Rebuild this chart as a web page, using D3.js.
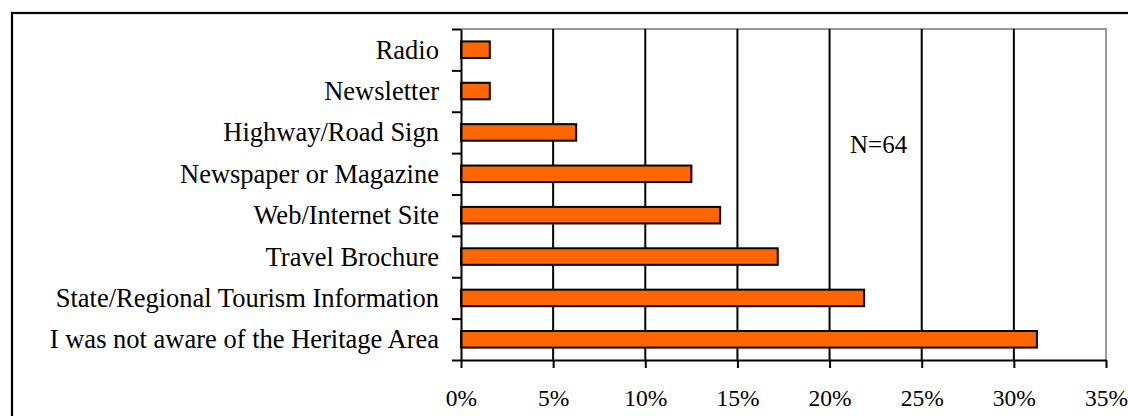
<!DOCTYPE html>
<html>
<head>
<meta charset="utf-8">
<script src="https://cdn.jsdelivr.net/npm/d3@7"></script>
<style>
  html, body { margin: 0; padding: 0; background: #fff; }
  svg { display: block; }
  text { font-family: "Liberation Serif", "Times New Roman", serif; fill: #000; }
</style>
</head>
<body>
<svg id="chart" width="1128" height="416"></svg>
<script>
// How visitors heard about the Heritage Area (share of respondents)
const categories = [
  "Radio",
  "Newsletter",
  "Highway/Road Sign",
  "Newspaper or Magazine",
  "Web/Internet Site",
  "Travel Brochure",
  "State/Regional Tourism Information",
  "I was not aware of the Heritage Area"
];
const shares = [1.5625, 1.5625, 6.25, 12.5, 14.0625, 17.1875, 21.875, 31.25];
const xTicks = [0, 5, 10, 15, 20, 25, 30, 35];
const sampleNote = "N=64";

const svg = d3.select("#chart");
const plot = { left: 461, right: 1106, top: 29, bottom: 360 };

// outer frame
svg.append("rect")
  .attr("x", 12).attr("y", 13)
  .attr("width", 1140).attr("height", 440)
  .attr("fill", "none").attr("stroke", "#000").attr("stroke-width", 2.2);

const x = d3.scaleLinear().domain([0, 35]).range([plot.left, plot.right]);
const y = d3.scaleBand().domain(categories).range([plot.top, plot.bottom]).paddingInner(0.6).paddingOuter(0.3);
const yEdges = d3.scaleLinear().domain([0, categories.length]).range([plot.top, plot.bottom]);

// plot frame (top and right, grey)
svg.append("path")
  .attr("d", `M${plot.left},${plot.top}H${plot.right}V${plot.bottom}`)
  .attr("fill", "none").attr("stroke", "#999").attr("stroke-width", 2);

// vertical gridlines
svg.append("g").selectAll("line")
  .data(xTicks.filter(t => t > 0 && t < 35))
  .join("line")
  .attr("x1", d => x(d)).attr("x2", d => x(d))
  .attr("y1", plot.top).attr("y2", plot.bottom)
  .attr("stroke", "#000").attr("stroke-width", 2);

// bars
svg.append("g").selectAll("rect")
  .data(categories.map((c, i) => ({ c, v: shares[i] })))
  .join("rect")
  .attr("x", x(0))
  .attr("y", d => y(d.c))
  .attr("width", d => x(d.v) - x(0))
  .attr("height", y.bandwidth())
  .attr("fill", "#FF6600")
  .attr("stroke", "#000").attr("stroke-width", 2);

// x axis
const xAxis = svg.append("g")
  .attr("transform", `translate(0,${plot.bottom})`)
  .call(d3.axisBottom(x).tickValues(xTicks).tickFormat(d => d + "%").tickSizeInner(8).tickSizeOuter(0));
xAxis.select(".domain").attr("stroke", "#000").attr("stroke-width", 2);
xAxis.selectAll(".tick line").attr("stroke", "#000").attr("stroke-width", 2);
xAxis.selectAll(".tick text")
  .attr("y", 46).attr("dy", 0)
  .style("font-family", '"Liberation Serif", "Times New Roman", serif')
  .style("font-size", "23.5px").attr("fill", "#000");

// y axis: line with ticks at the category boundaries
const yAxis = svg.append("g")
  .attr("transform", `translate(${plot.left},0)`)
  .call(d3.axisLeft(yEdges).ticks(categories.length).tickFormat("").tickSizeInner(9).tickSizeOuter(0));
yAxis.select(".domain").attr("stroke", "#000").attr("stroke-width", 2);
yAxis.selectAll(".tick line").attr("stroke", "#000").attr("stroke-width", 2);

// category labels
svg.append("g").selectAll("text")
  .data(categories)
  .join("text")
  .attr("x", 439)
  .attr("y", d => y(d) + y.bandwidth() / 2 + 9)
  .attr("text-anchor", "end")
  .style("font-size", "26.5px")
  .text(d => d);

// sample size note
svg.append("text")
  .attr("x", 850).attr("y", 152.5)
  .style("font-size", "25px")
  .text(sampleNote);
</script>
</body>
</html>
